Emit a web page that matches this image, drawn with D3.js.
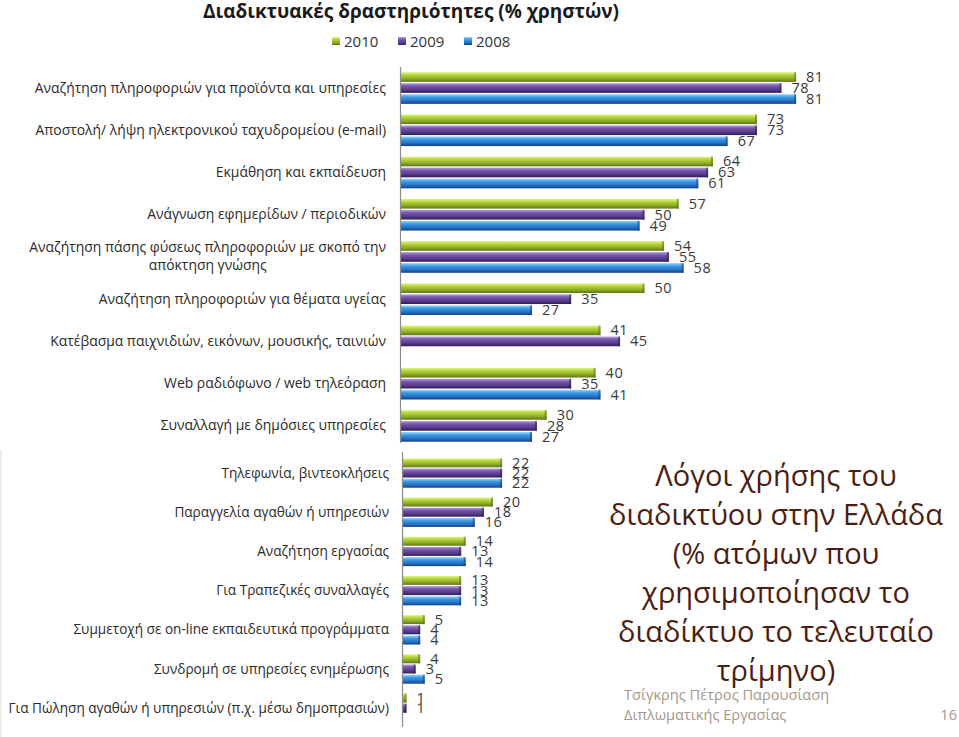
<!DOCTYPE html>
<html>
<head>
<meta charset="utf-8">
<script src="https://cdn.jsdelivr.net/npm/d3@7"></script>
<style>
  html, body { margin: 0; padding: 0; background: #ffffff; }
  svg { display: block; }
</style>
</head>
<body>
<svg id="chart" width="959" height="737"></svg>
<script>
// ---------------- DATA ----------------
const categories = [
  "Αναζήτηση πληροφοριών για προϊόντα και υπηρεσίες",
  "Αποστολή/ λήψη ηλεκτρονικού ταχυδρομείου (e-mail)",
  "Εκμάθηση και εκπαίδευση",
  "Ανάγνωση εφημερίδων / περιοδικών",
  "Αναζήτηση πάσης φύσεως πληροφοριών με σκοπό την\nαπόκτηση γνώσης",
  "Αναζήτηση πληροφοριών για θέματα υγείας",
  "Κατέβασμα παιχνιδιών, εικόνων, μουσικής, ταινιών",
  "Web ραδιόφωνο / web τηλεόραση",
  "Συναλλαγή με δημόσιες υπηρεσίες",
  "Τηλεφωνία, βιντεοκλήσεις",
  "Παραγγελία αγαθών ή υπηρεσιών",
  "Αναζήτηση εργασίας",
  "Για Τραπεζικές συναλλαγές",
  "Συμμετοχή σε on-line εκπαιδευτικά προγράμματα",
  "Συνδρομή σε υπηρεσίες ενημέρωσης",
  "Για Πώληση αγαθών ή υπηρεσιών (π.χ. μέσω δημοπρασιών)"
];
const seriesNames = ["2010", "2009", "2008"];
const values2010 = [81, 73, 64, 57, 54, 50, 41, 40, 30, 22, 20, 14, 13, 5, 4, 1];
const values2009 = [78, 73, 63, 50, 55, 35, 45, 35, 28, 22, 18, 13, 13, 4, 3, 1];
const values2008 = [81, 67, 61, 49, 58, 27, null, 41, 27, 22, 16, 14, 13, 4, 5, null];
const chartTitle = "Διαδικτυακές δραστηριότητες (% χρηστών)";
const slideTitle = ["Λόγοι χρήσης του", "διαδικτύου στην Ελλάδα", "(% ατόμων που", "χρησιμοποίησαν το", "διαδίκτυο το τελευταίο", "τρίμηνο)"];
const footerLines = ["Τσίγκρης Πέτρος Παρουσίαση", "Διπλωματικής Εργασίας"];
const pageNumber = "16";

// ---------------- SETUP ----------------
const svg = d3.select("#chart");
const FONT = "'Open Sans', 'Noto Sans', 'DejaVu Sans', sans-serif";
const colors = {
  "2010": ["#e3f48e", "#b6d43a", "#8aa826", "#5c7412"],
  "2009": ["#b7a0dc", "#7657ab", "#57388a", "#2f1c55"],
  "2008": ["#9ad8fa", "#3e9ae6", "#2470c4", "#123f80"]
};
const valuesBySeries = {"2010": values2010, "2009": values2009, "2008": values2008};

const defs = svg.append("defs");
seriesNames.forEach(s => {
  const g = defs.append("linearGradient").attr("id", "grad" + s)
    .attr("x1", 0).attr("y1", 0).attr("x2", 0).attr("y2", 1);
  const c = colors[s];
  g.append("stop").attr("offset", "0%").attr("stop-color", c[0]);
  g.append("stop").attr("offset", "30%").attr("stop-color", c[1]);
  g.append("stop").attr("offset", "70%").attr("stop-color", c[2]);
  g.append("stop").attr("offset", "100%").attr("stop-color", c[3]);
});

// Title
svg.append("text")
  .attr("x", 411).attr("y", 18)
  .attr("text-anchor", "middle")
  .attr("font-family", FONT).attr("font-weight", "bold").attr("font-size", 19)
  .attr("fill", "#1a1a1a")
  .text(chartTitle);

// Legend
const legendX = d3.scalePoint().domain(seriesNames).range([332, 464]);
const legend = svg.append("g");
seriesNames.forEach(s => {
  legend.append("rect")
    .attr("x", legendX(s)).attr("y", 37).attr("width", 8).attr("height", 8)
    .attr("fill", "url(#grad" + s + ")");
  legend.append("text")
    .attr("x", legendX(s) + 12).attr("y", 46.5)
    .attr("font-family", FONT).attr("font-size", 15).attr("fill", "#333")
    .text(s);
});

// Panels
const panels = [
  {start: 0, end: 9, y0: 66.9, y1: 447, x0: 400, pxPerUnit: 4.89, axisTop: 67, axisBottom: 443, labelRight: 386, labelSize: 13.9},
  {start: 9, end: 16, y0: 453.4, y1: 727.8, x0: 402, pxPerUnit: 4.55, axisTop: 452, axisBottom: 727, labelRight: 389, labelSize: 13.6}
];

panels.forEach(p => {
  const cats = categories.slice(p.start, p.end);
  const y = d3.scaleBand().domain(cats).range([p.y0, p.y1]).paddingInner(0.25).paddingOuter(0.125);
  const yInner = d3.scaleBand().domain(seriesNames).range([0, y.bandwidth()]).paddingInner(0.12);
  const x = d3.scaleLinear().domain([0, 100]).range([p.x0, p.x0 + 100 * p.pxPerUnit]);
  const g = svg.append("g");

  cats.forEach((c, i) => {
    const idx = p.start + i;
    const grp = g.append("g").attr("transform", `translate(0,${y(c)})`);
    seriesNames.forEach(s => {
      const v = valuesBySeries[s][idx];
      if (v == null) return;
      const by = yInner(s), bh = yInner.bandwidth();
      grp.append("rect")
        .attr("x", x(0)).attr("y", by)
        .attr("width", x(v) - x(0)).attr("height", bh)
        .attr("fill", "url(#grad" + s + ")");
      grp.append("rect")
        .attr("x", x(v) - 2).attr("y", by)
        .attr("width", 2).attr("height", bh)
        .attr("fill", colors[s][3]).attr("opacity", 0.55);
      grp.append("text")
        .attr("x", x(v) + 10).attr("y", by + bh / 2 + 5)
        .attr("font-family", FONT).attr("font-size", 14.5).attr("fill", "#3a3a3a")
        .attr("letter-spacing", 0.5)
        .text(v);
    });
    const lines = c.split("\n");
    const cy = y(c) + y.bandwidth() / 2;
    const lh = 18;
    const t = g.append("text")
      .attr("font-family", FONT).attr("font-size", p.labelSize).attr("fill", "#2a2a2a");
    if (lines.length === 1) {
      t.attr("x", p.labelRight).attr("y", cy + 4.5).attr("text-anchor", "end").text(lines[0]);
    } else {
      const first = t.append("tspan").attr("x", p.labelRight).attr("y", cy - lh / 2 + 4.5)
        .attr("text-anchor", "end").text(lines[0]);
      const w = first.node().getComputedTextLength();
      const centre = p.labelRight - w / 2;
      lines.slice(1).forEach((ln, k) => {
        t.append("tspan").attr("x", centre).attr("y", cy - lh / 2 + 4.5 + lh * (k + 1))
          .attr("text-anchor", "middle").text(ln);
      });
    }
  });

  g.append("line")
    .attr("x1", p.x0 + 0.5).attr("x2", p.x0 + 0.5)
    .attr("y1", p.axisTop).attr("y2", p.axisBottom)
    .attr("stroke", "#8c8c8c").attr("stroke-width", 1.2);
});

svg.append("line").attr("x1", 1).attr("x2", 1).attr("y1", 450).attr("y2", 737)
  .attr("stroke", "#f1efe2").attr("stroke-width", 2);

// Slide title
const st = svg.append("text")
  .attr("font-family", FONT).attr("font-size", 29).attr("fill", "#4b1e12")
  .attr("text-anchor", "middle");
slideTitle.forEach((ln, i) => {
  st.append("tspan").attr("x", 776).attr("y", 486 + i * 39).text(ln);
});

// Footer
const ft = svg.append("text")
  .attr("font-family", FONT).attr("font-size", 14.6).attr("fill", "#a8968a");
footerLines.forEach((ln, i) => {
  ft.append("tspan").attr("x", 624).attr("y", 700 + i * 20).text(ln);
});
svg.append("text").attr("x", 957).attr("y", 720).attr("text-anchor", "end")
  .attr("font-family", FONT).attr("font-size", 14.6).attr("fill", "#a8968a").text(pageNumber);
</script>
</body>
</html>
